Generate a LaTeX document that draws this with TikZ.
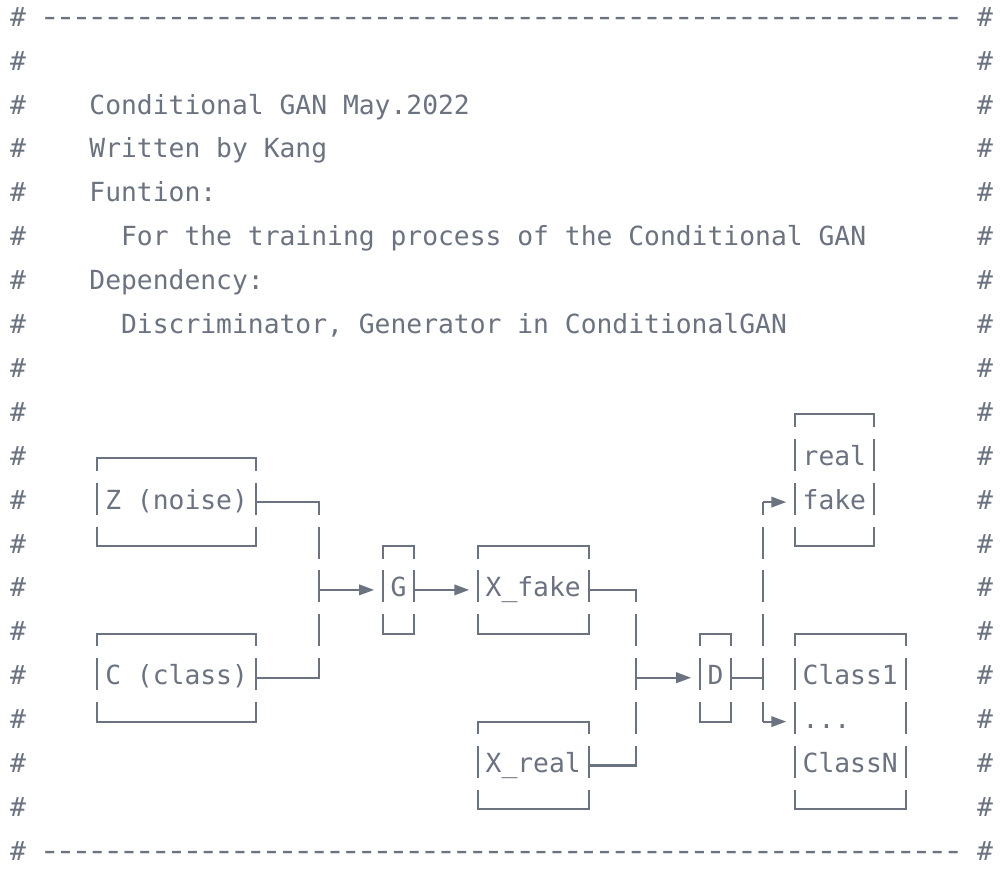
\documentclass[tikz,border=0pt]{standalone}
\usepackage{fontspec}
\setmonofont{DejaVu Sans Mono}
\usetikzlibrary{arrows.meta}
\definecolor{ink}{RGB}{107,114,128}
% ascii-style box: name, left col, right col, top row, bottom row
\newcommand\asciibox[5]{%
  \node[boxn,minimum width={15.85*(#3-#2)},minimum height={43.9*(#5-#4)}] (#1)
    at ({(cx(#2)+cx(#3))/2},{(ry(#4)+ry(#5))/2}) {};
  \draw[hline] (#1.north west) -- (#1.north east);
  \draw[hline] (#1.south west) -- (#1.south east);
  \draw[vline] (#1.north west) -- (#1.south west);
  \draw[vline] (#1.north east) -- (#1.south east);
}
% text at grid cell: name, col, row, text
\newcommand\gtext[4]{\node[txt] (#1) at ({cx(#2)-7.925},{ry(#3)+7}) {#4};}
% one wide hyphen in a monospace cell
\newcommand\hyph{\makebox[15.85pt][c]{\scalebox{1.35}[1.1]{-}}}
\newcommand\hyrow{\foreach \n in {1,...,58}{\hyph}}
\begin{document}
\begin{tikzpicture}[x=1pt,y=-1pt,
  declare function={cx(\colidx)=18.1+15.85*\colidx; ry(\rowidx)=19.2+43.9*\rowidx;},
  txt/.style={inner sep=0pt,outer sep=0pt,anchor=base west,text=ink,
    font=\ttfamily\fontsize{26.33}{30}\selectfont},
  boxn/.style={rectangle,inner sep=0pt,outer sep=0pt,draw=none},
  hline/.style={draw=ink,line width=2.1pt,line cap=rect},
  vline/.style={draw=ink,line width=2.1pt,dash pattern=on 32pt off 11.9pt,dash phase=19.5pt},
  arr/.style={draw=ink,line width=2.1pt,-{Triangle[length=15pt,width=10.5pt]},shorten >=8.5pt},
]
\fill[white] (0,0) rectangle (1004,868);
\useasboundingbox (0,0) rectangle (1004,868);

% frame of hashes
\foreach \i in {0,...,19}{\gtext{hl\i}{0}{\i}{\#}\gtext{hr\i}{61}{\i}{\#}}
\gtext{dtop}{2}{0}{\hyrow}
\gtext{dbot}{2}{19}{\hyrow}

% header
\gtext{t1}{5}{2}{Conditional GAN May.2022}
\gtext{t2}{5}{3}{Written by Kang}
\gtext{t3}{5}{4}{Funtion:}
\gtext{t4}{7}{5}{For the training process of the Conditional GAN}
\gtext{t5}{5}{6}{Dependency:}
\gtext{t6}{7}{7}{Discriminator, Generator in ConditionalGAN}

% boxes
\asciibox{z}{5}{15}{10}{12}
\asciibox{c}{5}{15}{14}{16}
\asciibox{g}{23}{25}{12}{14}
\asciibox{xf}{29}{36}{12}{14}
\asciibox{xr}{29}{36}{16}{18}
\asciibox{d}{43}{45}{14}{16}
\asciibox{rf}{49}{54}{9}{12}
\asciibox{cls}{49}{56}{14}{18}

% box texts
\gtext{zt}{6}{11}{Z (noise)}
\gtext{ct}{6}{15}{C (class)}
\gtext{gt}{24}{13}{G}
\gtext{xft}{30}{13}{X\_fake}
\gtext{xrt}{30}{17}{X\_real}
\gtext{dt}{44}{15}{D}
\gtext{rft1}{50}{10}{real}
\gtext{rft2}{50}{11}{fake}
\gtext{clt1}{50}{15}{Class1}
\gtext{clt2}{50}{16}{...}
\gtext{clt3}{50}{17}{ClassN}

% junction points
\coordinate (j1) at ({cx(19)},{ry(13)});
\coordinate (j2) at ({cx(39)},{ry(15)});
\coordinate (j3) at ({cx(47)},{ry(15)});
\coordinate (b1) at ({cx(47)},{ry(11)});
\coordinate (b2) at (j3 |- cls.west);

% Z, C -> G
\draw[hline] (z.east) -- (z.east -| j1);
\draw[hline] (c.east) -- (c.east -| j1);
\draw[vline] (z.east -| j1) -- (c.east -| j1);
\draw[arr] (j1) -- (g.west);
% G -> X_fake
\draw[arr] (g.east) -- (xf.west);
% X_fake, X_real -> D
\draw[hline] (xf.east) -- (xf.east -| j2);
\draw[hline] (xr.east) -- (xr.east -| j2);
\draw[vline] (xf.east -| j2) -- (xr.east -| j2);
\draw[arr] (j2) -- (d.west);
% D -> outputs
\draw[hline] (d.east) -- (j3);
\draw[vline] (b1) -- (b2);
\draw[arr] (b1) -- (b1 -| rf.west);
\draw[arr] (b2) -- (cls.west);
\end{tikzpicture}
\end{document}
